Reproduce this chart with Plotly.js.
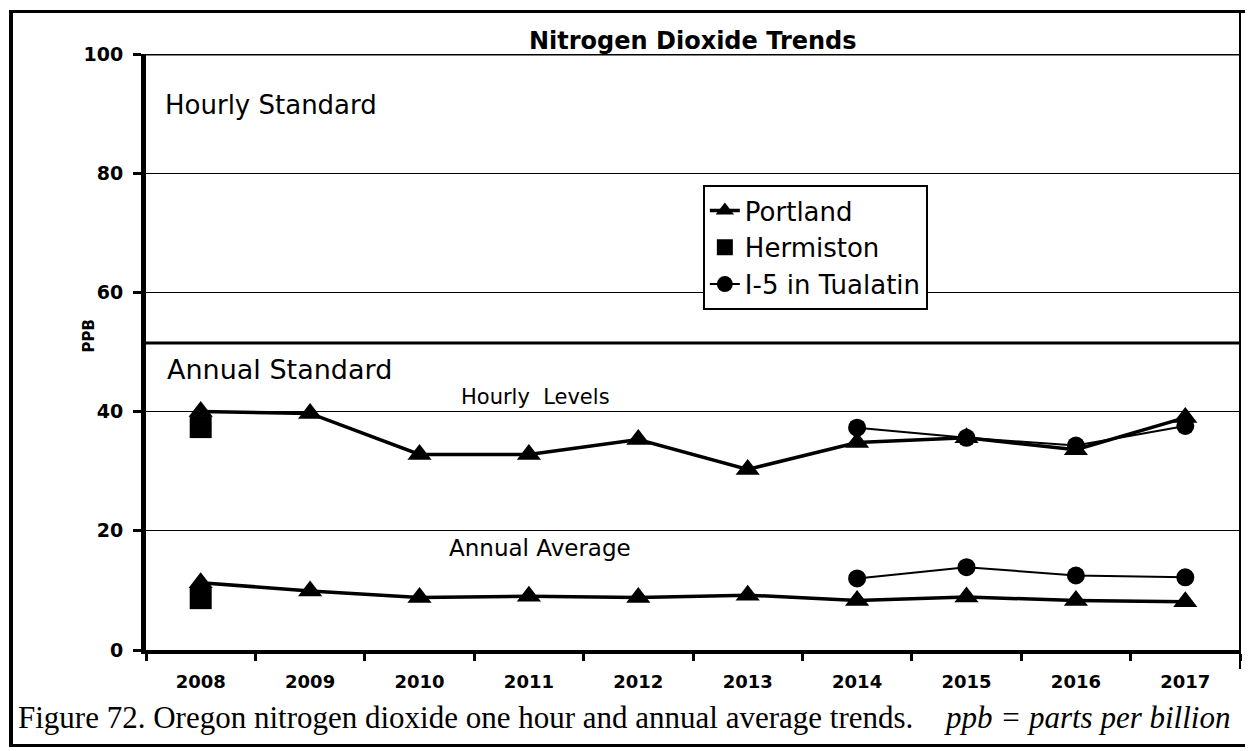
<!DOCTYPE html>
<html>
<head>
<meta charset="utf-8">
<script src="https://cdn.plot.ly/plotly-3.0.1.min.js"></script>
<style>
html,body{margin:0;padding:0;background:#fff;}
#wrap{position:relative;width:1256px;height:751px;}
#chart{width:1256px;height:751px;}
#frame{position:absolute;left:9px;top:10px;width:1232px;height:731px;
  border-left:4px solid #000;border-top:3px solid #000;border-bottom:3px solid #000;pointer-events:none;}
#frameR{position:absolute;left:1239px;top:10px;width:2px;height:659px;background:#000;pointer-events:none;}
</style>
</head>
<body>
<div id="wrap">
<div id="chart"></div>
<div id="frame"></div>
<div id="frameR"></div>
</div>
<script>
// ---- data ----
const years = ["2008","2009","2010","2011","2012","2013","2014","2015","2016","2017"];
const portlandHourly   = [40.0, 39.7, 32.8, 32.8, 35.3, 30.3, 34.8, 35.6, 33.6, 39.0];
const portlandAnnual   = [11.3, 9.9, 8.8, 9.0, 8.8, 9.2, 8.3, 8.9, 8.3, 8.1];
const hermistonHourly  = [37.4, null, null, null, null, null, null, null, null, null];
const hermistonAnnual  = [8.7, null, null, null, null, null, null, null, null, null];
const tualatinHourly   = [null, null, null, null, null, null, 37.3, 35.6, 34.3, 37.6];
const tualatinAnnual   = [null, null, null, null, null, null, 12.0, 13.9, 12.5, 12.2];
const hourlyStandard = 100;
const annualStandard = 51.5;
const yTicks = [0, 20, 40, 60, 80, 100];

const sans = "DejaVu Sans, Verdana, sans-serif";
const serif = "Liberation Serif, Times New Roman, serif";

const traces = [
  {x: years, y: hermistonHourly, name: "Hermiston", type: "scatter", mode: "markers",
   marker: {symbol: "square", size: 22, color: "#000"}, legendrank: 2},
  {x: years, y: hermistonAnnual, name: "Hermiston", type: "scatter", mode: "markers",
   marker: {symbol: "square", size: 22, color: "#000"}, showlegend: false},
  {x: years, y: portlandHourly, name: "Portland", type: "scatter", mode: "lines+markers",
   line: {color: "#000", width: 3.5}, marker: {symbol: "triangle-up", size: 21, color: "#000"}, legendrank: 1},
  {x: years, y: portlandAnnual, name: "Portland", type: "scatter", mode: "lines+markers",
   line: {color: "#000", width: 3.5}, marker: {symbol: "triangle-up", size: 21, color: "#000"}, showlegend: false},
  {x: years, y: tualatinHourly, name: "I-5 in Tualatin", type: "scatter", mode: "lines+markers",
   line: {color: "#000", width: 2}, marker: {symbol: "circle", size: 18, color: "#000"}, legendrank: 3},
  {x: years, y: tualatinAnnual, name: "I-5 in Tualatin", type: "scatter", mode: "lines+markers",
   line: {color: "#000", width: 2}, marker: {symbol: "circle", size: 18, color: "#000"}, showlegend: false}
];

const layout = {
  width: 1256, height: 751,
  margin: {l: 146, r: 16, t: 54, b: 101},
  paper_bgcolor: "#fff", plot_bgcolor: "#fff",
  showlegend: true,
  xaxis: {type: "category", range: [-0.5, 9.5], showgrid: false, zeroline: false,
          showline: true, linecolor: "#000", linewidth: 4,
          ticks: "outside", tickson: "boundaries", ticklen: 7, tickwidth: 3, tickcolor: "#000",
          tickfont: {family: sans, size: 18, color: "#000", weight: "bold"}, ticklabelstandoff: 12},
  yaxis: {range: [0, 100], tickvals: yTicks, showgrid: true, gridcolor: "#000", gridwidth: 1.2,
          zeroline: false, showline: true, linecolor: "#000", linewidth: 5,
          ticks: "outside", ticklen: 8, tickwidth: 3, tickcolor: "#000",
          tickfont: {family: sans, size: 19, color: "#000", weight: "bold"}, ticklabelstandoff: 6},
  legend: {x: 0.509, y: 0.78, xanchor: "left", yanchor: "top", bgcolor: "#fff",
           bordercolor: "#000", borderwidth: 2, font: {family: sans, size: 26, color: "#000"},
           itemwidth: 30, tracegroupgap: 0},
  shapes: [
    {type: "line", xref: "paper", x0: 0, x1: 1, yref: "y", y0: hourlyStandard, y1: hourlyStandard,
     line: {color: "#000", width: 3}},
    {type: "line", xref: "paper", x0: 0, x1: 1, yref: "y", y0: annualStandard, y1: annualStandard,
     line: {color: "#000", width: 3}}
  ],
  annotations: [
    {text: "<b>Nitrogen Dioxide Trends</b>", xref: "paper", yref: "paper", x: 0.5, y: 1.021,
     xanchor: "center", yanchor: "middle", showarrow: false, font: {family: sans, size: 24, color: "#000"}},
    {text: "<b>PPB</b>", xref: "paper", yref: "paper", x: -0.063, y: 0.526, textangle: -90,
     showarrow: false, font: {family: sans, size: 15, color: "#000"}},
    {text: "Hourly Standard", xref: "paper", yref: "paper", x: 0.0155, y: 0.943, xanchor: "left",
     showarrow: false, font: {family: sans, size: 26, color: "#000"}},
    {text: "Annual Standard", xref: "paper", yref: "paper", x: 0.017, y: 0.47, xanchor: "left",
     showarrow: false, font: {family: sans, size: 27, color: "#000"}},
    {text: "Hourly  Levels", xref: "paper", yref: "paper", x: 0.356, y: 0.425, xanchor: "center",
     showarrow: false, font: {family: sans, size: 21, color: "#000"}},
    {text: "Annual Average", xref: "paper", yref: "paper", x: 0.36, y: 0.146, xanchor: "center",
     showarrow: false, font: {family: sans, size: 23, color: "#000"}},
    {text: "Figure 72. Oregon nitrogen dioxide one hour and annual average trends.", xref: "paper", yref: "paper",
     x: -0.119, y: -0.114, xanchor: "left", yanchor: "middle",
     showarrow: false, font: {family: serif, size: 31, color: "#000"}},
    {text: "<i>ppb = parts per billion</i>", xref: "paper", yref: "paper",
     x: 0.993, y: -0.114, xanchor: "right", yanchor: "middle",
     showarrow: false, font: {family: serif, size: 31, color: "#000"}}
  ]
};

Plotly.newPlot("chart", traces, layout, {displayModeBar: false, staticPlot: true});
</script>
</body>
</html>
